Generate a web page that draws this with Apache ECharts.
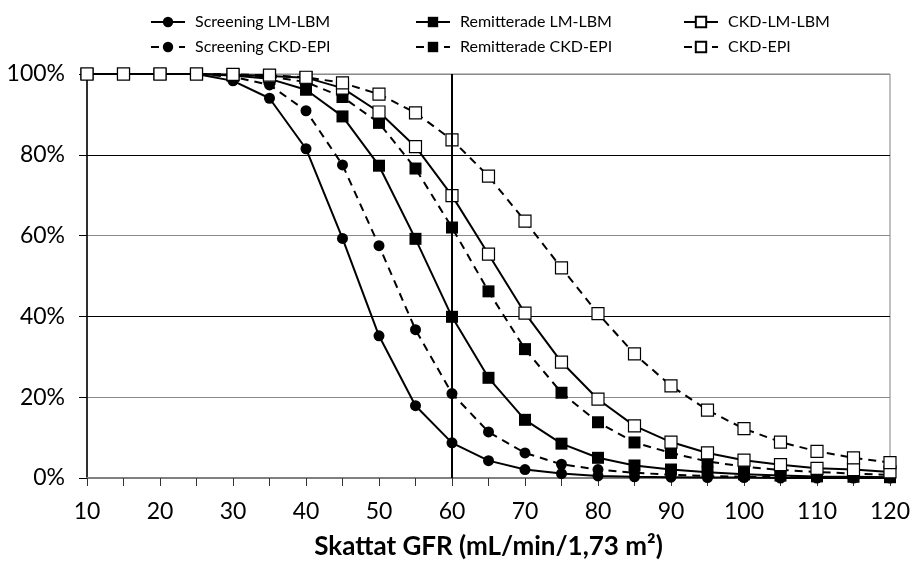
<!DOCTYPE html>
<html>
<head>
<meta charset="utf-8">
<script src="https://cdn.jsdelivr.net/npm/echarts@6/dist/echarts.min.js"></script>
<style>
  html, body { margin: 0; padding: 0; background: #fff; }
  #chart { width: 913px; height: 565px; }
</style>
</head>
<body>
<div id="chart"></div>
<script>
// Estimated GFR (x values)
const gfr = [10, 15, 20, 25, 30, 35, 40, 45, 50, 55, 60, 65, 70, 75, 80, 85, 90, 95, 100, 105, 110, 115, 120];

// Cumulative share (%) per group
const screeningLmLbm  = [100, 100, 100, 100, 98.3, 94.0, 81.5, 59.3, 35.2, 17.9, 8.7, 4.3, 2.1, 1.1, 0.5, 0.3, 0.2, 0.1, 0.1, 0.0, 0.0, 0.0, 0.0];
const screeningCkdEpi = [100, 100, 100, 100, 99.3, 97.3, 90.9, 77.5, 57.5, 36.7, 20.9, 11.4, 6.2, 3.4, 2.1, 1.3, 0.8, 0.5, 0.3, 0.2, 0.1, 0.1, 0.1];
const remittLmLbm     = [100, 100, 100, 100, 99.6, 98.8, 96.1, 89.5, 77.3, 59.2, 39.9, 24.8, 14.4, 8.5, 5.0, 3.1, 2.1, 1.4, 0.9, 0.6, 0.4, 0.3, 0.2];
const remittCkdEpi    = [100, 100, 100, 100, 99.8, 99.4, 98.0, 94.3, 87.9, 76.6, 62.0, 46.2, 31.9, 21.1, 13.8, 8.8, 6.2, 4.1, 2.8, 2.0, 1.5, 1.1, 0.8];
const ckdLmLbm        = [100, 100, 100, 100, 99.8, 99.5, 99.1, 96.5, 90.6, 82.0, 69.9, 55.4, 40.8, 28.7, 19.5, 12.9, 8.9, 6.2, 4.4, 3.3, 2.4, 2.1, 1.5];
const ckdEpi          = [100, 100, 100, 100, 99.9, 99.7, 99.2, 97.8, 95.0, 90.4, 83.7, 74.7, 63.6, 52.0, 40.7, 30.7, 22.8, 16.8, 12.2, 8.9, 6.6, 5.0, 3.8];

const xTicks = { min: 10, max: 120, step: 10 };
const yTicks = { min: 0, max: 100, step: 20 };
const cutoff = 60;

const FONT = 'Lato';

function pairs(values) {
  return gfr.map((x, i) => [x, values[i]]);
}

function makeSeries(name, values, kind, dashed) {
  const filled = kind !== 'openSquare';
  return {
    name: name,
    type: 'line',
    data: pairs(values),
    symbol: kind === 'circle' ? 'circle' : 'rect',
    symbolSize: kind === 'circle' ? 11 : 12,
    lineStyle: { color: '#000', width: 2, type: dashed ? [8, 6] : 'solid' },
    itemStyle: {
      color: filled ? '#000' : '#fff',
      borderColor: '#000',
      borderWidth: filled ? 0 : 1.2
    },
    emphasis: { disabled: true },
    animation: false,
    z: kind === 'openSquare' ? 4 : 3
  };
}

const series = [
  makeSeries('Screening LM-LBM', screeningLmLbm, 'circle', false),
  makeSeries('Screening CKD-EPI', screeningCkdEpi, 'circle', true),
  makeSeries('Remitterade LM-LBM', remittLmLbm, 'square', false),
  makeSeries('Remitterade CKD-EPI', remittCkdEpi, 'square', true),
  makeSeries('CKD-LM-LBM', ckdLmLbm, 'openSquare', false),
  makeSeries('CKD-EPI', ckdEpi, 'openSquare', true)
];

// Vertical reference line at the cutoff value
series[0].markLine = {
  silent: true,
  symbol: ['none', 'none'],
  label: { show: false },
  lineStyle: { color: '#000', width: 2, type: 'solid' },
  data: [{ xAxis: cutoff }],
  animation: false
};

function legendColumn(left, names) {
  return {
    left: left,
    top: 9,
    orient: 'vertical',
    itemWidth: 34,
    itemHeight: 13,
    itemGap: 9,
    selectedMode: false,
    textStyle: { fontFamily: FONT, fontSize: 16, color: '#000', padding: [0, 0, 0, 5] },
    data: names
  };
}

const chart = echarts.init(document.getElementById('chart'), null, { renderer: 'canvas' });
chart.setOption({
  backgroundColor: '#fff',
  animation: false,
  legend: [
    legendColumn(145, ['Screening LM-LBM', 'Screening CKD-EPI']),
    legendColumn(410, ['Remitterade LM-LBM', 'Remitterade CKD-EPI']),
    legendColumn(678, ['CKD-LM-LBM', 'CKD-EPI'])
  ],
  grid: {
    left: 87, right: 20, top: 74, bottom: 83,
    show: true, borderColor: '#808080', borderWidth: 1, backgroundColor: 'transparent'
  },
  xAxis: {
    type: 'value',
    min: xTicks.min, max: xTicks.max, interval: xTicks.step,
    name: 'Skattat GFR (mL/min/1,73 m²)',
    nameLocation: 'middle',
    nameGap: 56,
    nameTextStyle: { fontFamily: FONT, fontSize: 26, fontWeight: 'bold', color: '#000' },
    axisLine: { show: true, lineStyle: { color: '#808080', width: 2 } },
    axisTick: { show: true, length: 8, lineStyle: { color: '#333', width: 1 } },
    minorTick: { show: true, splitNumber: 2, length: 8, lineStyle: { color: '#333', width: 1 } },
    axisLabel: { fontFamily: FONT, fontSize: 23, color: '#000', margin: 22 },
    splitLine: { show: false }
  },
  yAxis: {
    type: 'value',
    min: yTicks.min, max: yTicks.max, interval: yTicks.step,
    axisLine: { show: true, lineStyle: { color: '#000', width: 1.5 } },
    axisTick: { show: true, length: 8, lineStyle: { color: '#000', width: 1 } },
    axisLabel: { fontFamily: FONT, fontSize: 23, color: '#000', margin: 22, formatter: '{value}%' },
    splitLine: {
      show: true,
      lineStyle: { color: ['#808080', '#8a8a8a', '#000', '#8a8a8a', '#000', '#8a8a8a'], width: 1.2 }
    }
  },
  series: series
});
</script>
</body>
</html>
